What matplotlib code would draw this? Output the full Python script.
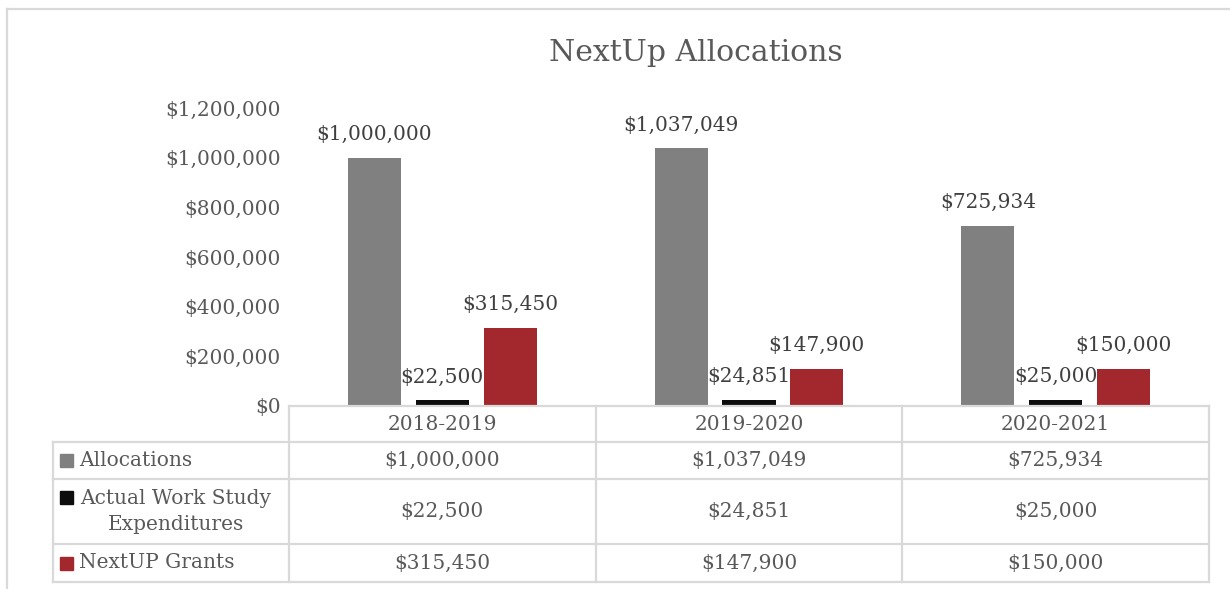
import numpy as np
import matplotlib
matplotlib.use("Agg")
import matplotlib.pyplot as plt
from matplotlib.lines import Line2D
from matplotlib.patches import Rectangle

# data
years = ["2018-2019", "2019-2020", "2020-2021"]
series = ["Allocations", "Actual Work Study\nExpenditures", "NextUP Grants"]
allocations = [1000000, 1037049, 725934]
work_study = [22500, 24851, 25000]
grants = [315450, 147900, 150000]
colors = ["#808080", "#0d0d0d", "#a3282e"]

values = [allocations, work_study, grants]
txt = "#595959"
line_c = "#d9d9d9"
W, H = 1230, 589

plt.rcParams["font.family"] = ["DejaVu Serif"]


def fx(x):
    return x / W


def fy(y):
    return 1 - y / H


def money(v):
    return "${:,.0f}".format(v)


fig = plt.figure(figsize=(12.3, 5.89), dpi=100)

# outer chart border
fig.add_artist(Line2D([fx(7), fx(7)], [fy(9), fy(589)], color=line_c, lw=1.6))
fig.add_artist(Line2D([fx(7), fx(1230)], [fy(9), fy(9)], color=line_c, lw=1.6))

left, right, top, bottom = 289, 1209, 108, 406
ax = fig.add_axes([fx(left), fy(bottom), fx(right - left), (bottom - top) / H])

x = np.arange(len(years))
w = 0.173
offs = [-0.221, 0, 0.221]
for i, vals in enumerate(values):
    bars = ax.bar(x + offs[i], vals, w, color=colors[i])
    ax.bar_label(bars, labels=[money(v) for v in vals], padding=10,
                 fontsize=14.5, color="#404040")

ax.set_xlim(-0.5, len(years) - 0.5)
ax.set_ylim(0, 1200000)
ax.set_yticks(np.arange(0, 1200001, 200000))
ax.set_yticklabels([money(v) for v in ax.get_yticks()], fontsize=14.5, color=txt)
ax.tick_params(axis="y", length=0, pad=6)
ax.set_xticks([])
for s in ax.spines.values():
    s.set_visible(False)

fig.text(fx(696), fy(53), "NextUp Allocations", fontsize=21.5, color=txt,
         ha="center", va="center")

# data table below the axis
col_x = [left + (right - left) * k / len(years) for k in range(len(years) + 1)]
rows_y = [406, 442, 479, 544, 582]
tab_left = 53

def hline(x0, x1, y):
    fig.add_artist(Line2D([fx(x0), fx(x1)], [fy(y), fy(y)], color=line_c, lw=1.6))


def vline(x, y0, y1):
    fig.add_artist(Line2D([fx(x), fx(x)], [fy(y0), fy(y1)], color=line_c, lw=1.6))


hline(left, right, rows_y[0])
for y in rows_y[1:]:
    hline(tab_left, right, y)
vline(tab_left, rows_y[1], rows_y[-1])
for cx in col_x:
    vline(cx, rows_y[0], rows_y[-1])

for j, yr in enumerate(years):
    fig.text(fx((col_x[j] + col_x[j + 1]) / 2), fy((rows_y[0] + rows_y[1]) / 2), yr,
             fontsize=14.5, color=txt, ha="center", va="center")

for i, name in enumerate(series):
    yc = (rows_y[i + 1] + rows_y[i + 2]) / 2
    ym = yc - 14 if "\n" in name else yc
    fig.add_artist(Rectangle((fx(60), fy(ym + 6.5)), 13 / W, 13 / H,
                             color=colors[i], transform=fig.transFigure))
    if "\n" in name:
        fig.text(fx(176), fy(yc), name, fontsize=14.5, color=txt,
                 ha="center", va="center", multialignment="center",
                 linespacing=1.45)
    else:
        fig.text(fx(79), fy(yc), name, fontsize=14.5, color=txt,
                 ha="left", va="center")
    for j in range(len(years)):
        fig.text(fx((col_x[j] + col_x[j + 1]) / 2), fy(yc), money(values[i][j]),
                 fontsize=14.5, color=txt, ha="center", va="center")

fig.savefig("out.png", dpi=100)
